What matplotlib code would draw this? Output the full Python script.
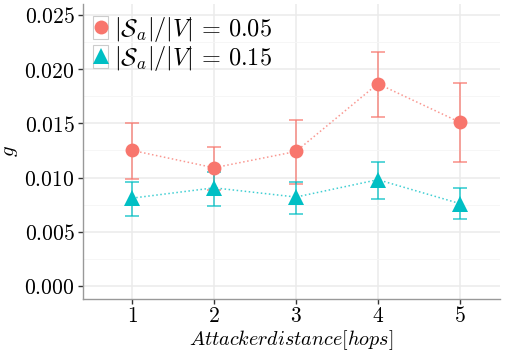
import matplotlib
matplotlib.use('Agg')
import matplotlib.pyplot as plt
from matplotlib.ticker import MultipleLocator, FixedLocator
from matplotlib.legend_handler import HandlerLine2D
from matplotlib.patches import Rectangle

plt.rcParams['mathtext.fontset'] = 'cm'
plt.rcParams['font.family'] = ['DejaVu Serif']

# data
hops = [1, 2, 3, 4, 5]
g_005 = [0.01250, 0.01090, 0.01240, 0.01865, 0.01510]
lo_005 = [0.00987, 0.00886, 0.00941, 0.01562, 0.01141]
hi_005 = [0.01504, 0.01282, 0.01534, 0.02159, 0.01870]
g_015 = [0.00810, 0.00905, 0.00820, 0.00980, 0.00760]
lo_015 = [0.00646, 0.00738, 0.00667, 0.00805, 0.00618]
hi_015 = [0.00959, 0.01052, 0.00962, 0.01147, 0.00901]
labels = [r'$|\mathcal{S}_a|/|V|\,=\,0.05$', r'$|\mathcal{S}_a|/|V|\,=\,0.15$']
yticks = [0.000, 0.005, 0.010, 0.015, 0.020, 0.025]

red = '#F8766D'
teal = '#00BFC4'


class BoxedHandler(HandlerLine2D):
    # ggplot style key: marker inside a grey bordered box
    def create_artists(self, legend, orig_handle, xdescent, ydescent,
                       width, height, fontsize, trans):
        arts = super().create_artists(legend, orig_handle, xdescent, ydescent,
                                      width, height, fontsize, trans)
        bw, bh = 11.0, 17.0
        cx, cy = width / 2 - xdescent, height / 2 - ydescent
        box = Rectangle((cx - bw / 2, cy - bh / 2), bw, bh, facecolor='white',
                        edgecolor='#CCCCCC', lw=0.8, transform=trans)
        return [box] + arts


fig = plt.figure(figsize=(5.08, 3.54), dpi=100)
ax = fig.add_axes([0.1634, 0.1554, 0.8206, 0.8333])

series = [(g_005, lo_005, hi_005, red, 'o', 10), (g_015, lo_015, hi_015, teal, '^', 11)]
handles = []
for (g, lo, hi, col, mk, ms), lab in zip(series, labels):
    yerr = [[a - b for a, b in zip(g, lo)], [c - a for a, c in zip(g, hi)]]
    ax.errorbar(hops, g, yerr=yerr, fmt='none', ecolor=col, alpha=0.65,
                elinewidth=1.4, capsize=5, capthick=1.4, zorder=3)
    ax.plot(hops, g, ls=':', color=col, alpha=0.75, lw=1.1, zorder=3)
    h, = ax.plot(hops, g, ls='none', marker=mk, ms=ms, color=col,
                 markeredgewidth=0, zorder=4, label=lab)
    handles.append(h)

ax.set_xlim(0.40, 5.49)
ax.set_ylim(-0.0012, 0.026)
ax.set_xticks(hops)
ax.set_xticklabels(['$%d$' % h for h in hops])
ax.yaxis.set_major_locator(FixedLocator(yticks))
ax.set_yticklabels(['$%.3f$' % v for v in yticks])
ax.yaxis.set_minor_locator(MultipleLocator(0.0025))

ax.grid(which='major', color='#EBEBEB', lw=1.1, zorder=0)
ax.grid(which='minor', axis='y', color='#F5F5F5', lw=0.6, zorder=0)
ax.set_axisbelow(True)
for side in ['top', 'right']:
    ax.spines[side].set_visible(False)
for side in ['left', 'bottom']:
    ax.spines[side].set_color('#999999')
    ax.spines[side].set_linewidth(1.0)
ax.tick_params(which='major', labelsize=15.5, color='#333333', length=3.5, width=1,
               labelcolor='black', pad=2.5)
ax.tick_params(axis='x', pad=1.0)
ax.tick_params(which='minor', length=0)

ax.set_xlabel(r'$Attackerdistance[hops]$', fontsize=14.5)
ax.set_ylabel(r'$g$', fontsize=15)
ax.xaxis.set_label_coords(0.5, -0.1)
ax.yaxis.set_label_coords(-0.151, 0.5)

leg = ax.legend(handles=handles, loc='upper left', bbox_to_anchor=(0.024, 0.963),
                fontsize=17.5, frameon=False, handlelength=0.63, handletextpad=0.25,
                labelspacing=0.0, borderpad=0.0, borderaxespad=0.0,
                handler_map={h: BoxedHandler() for h in handles})

fig.savefig('out.png', dpi=100)
